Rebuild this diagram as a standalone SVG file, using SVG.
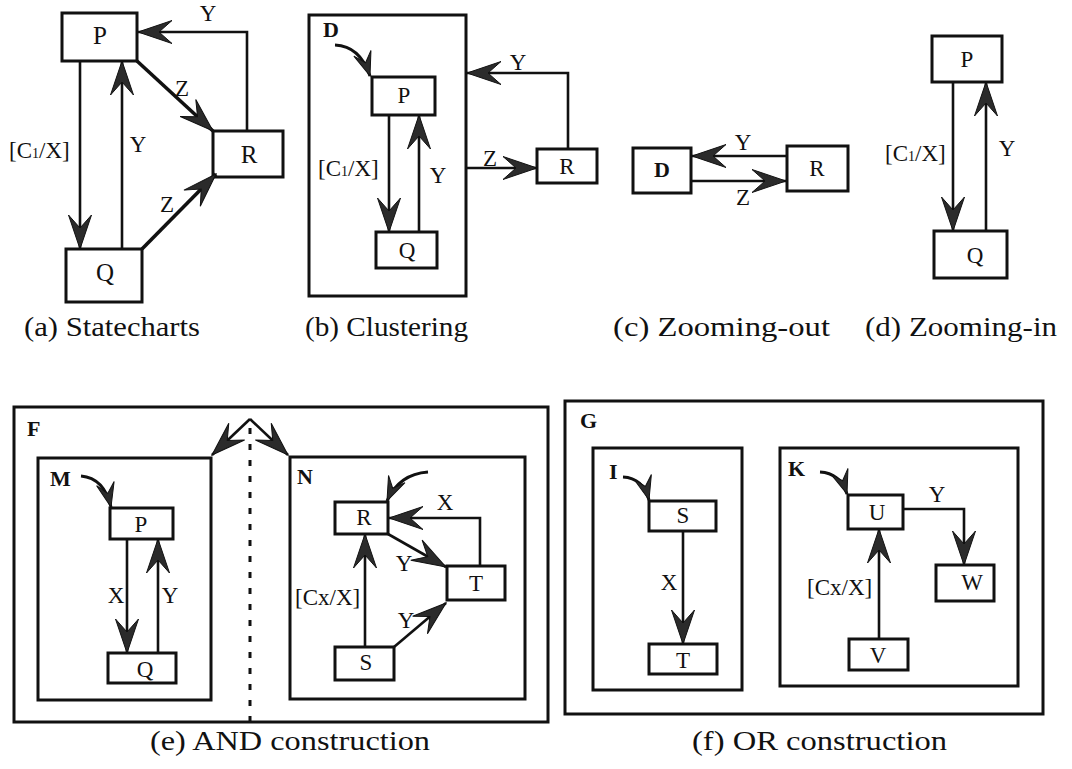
<svg xmlns="http://www.w3.org/2000/svg" width="1072" height="769" viewBox="0 0 1072 769" font-family="Liberation Serif, Times New Roman, serif">
<style>
.box{fill:none;stroke:#111;stroke-width:3}
.cl{fill:none;stroke:#111;stroke-width:3}
.e{fill:none;stroke:#111;stroke-width:2.6;marker-end:url(#ah)}
.ez{fill:none;stroke:#111;stroke-width:3.6;marker-end:url(#ah)}
.ei{fill:none;stroke:#111;stroke-width:3;marker-end:url(#ahs)}
text{font-family:"Liberation Serif","Nimbus Roman","Times New Roman","DejaVu Serif",serif;fill:#111}
.n{font-size:25px;text-anchor:middle}
.ns{font-size:23px;text-anchor:middle}
.l{font-size:23px}
.lc{font-size:23px;text-anchor:middle}
.b{font-size:22px;font-weight:bold}
.cap{font-size:28px}
.sub{font-size:14px}
</style>
<defs>
<marker id="ah" viewBox="-36 -14 38 28" markerWidth="38" markerHeight="28" refX="0" refY="0" orient="auto" markerUnits="userSpaceOnUse">
<path d="M0,0 L-34,-11.5 L-21,0 L-34,11.5 Z" fill="#2b2b2b" stroke="#111" stroke-width="1"/>
</marker>
<marker id="ahs" viewBox="-26 -11 28 22" markerWidth="28" markerHeight="22" refX="0" refY="0" orient="auto" markerUnits="userSpaceOnUse">
<path d="M0,0 L-24,-9 L-14,0 L-24,9 Z" fill="#2b2b2b" stroke="#111" stroke-width="1"/>
</marker>
</defs>
<rect width="1072" height="769" fill="#fff"/>

<!-- (a) Statecharts -->
<g id="a-P"><rect class="box" x="62" y="13" width="75" height="48"/><text class="n" x="100" y="44">P</text></g>
<g id="a-R"><rect class="box" x="213" y="131" width="70" height="46"/><text class="n" x="249" y="163">R</text></g>
<g id="a-Q"><rect class="box" x="66" y="249" width="76" height="53"/><text class="n" x="105" y="281">Q</text></g>

<!-- (b) Clustering -->
<g id="b-D"><rect class="cl" x="309" y="15" width="157" height="281"/><text class="b" x="323" y="37">D</text></g>
<g id="b-P"><rect class="box" x="372" y="77" width="63" height="38"/><text class="ns" x="404" y="103">P</text></g>
<g id="b-Q"><rect class="box" x="376" y="232" width="61" height="36"/><text class="ns" x="407" y="258">Q</text></g>
<g id="b-R"><rect class="box" x="537" y="149" width="60" height="34"/><text class="ns" x="567" y="174">R</text></g>

<!-- (c) Zooming-out -->
<g id="c-D"><rect class="box" x="633" y="148" width="58" height="45"/><text class="b" x="662" y="177" text-anchor="middle">D</text></g>
<g id="c-R"><rect class="box" x="787" y="146" width="61" height="45"/><text class="ns" x="817" y="176">R</text></g>

<!-- (d) Zooming-in -->
<g id="d-P"><rect class="box" x="932" y="36" width="70" height="46"/><text class="ns" x="967" y="67">P</text></g>
<g id="d-Q"><rect class="box" x="934" y="231" width="73" height="47"/><text class="ns" x="975" y="263">Q</text></g>

<!-- (e) AND construction -->
<g id="e-F"><rect class="cl" x="14" y="407" width="534" height="315"/><text class="b" x="27" y="436">F</text>
<line x1="250" y1="428" x2="250" y2="722" stroke="#111" stroke-width="3" stroke-dasharray="6 10"/></g>
<g id="e-M"><rect class="cl" x="38" y="458" width="173" height="242"/><text class="b" x="50" y="486">M</text></g>
<g id="e-P"><rect class="box" x="110" y="508" width="63" height="31"/><text class="ns" x="141" y="532">P</text></g>
<g id="e-Q"><rect class="box" x="108" y="653" width="68" height="30"/><text class="ns" x="145" y="677">Q</text></g>
<g id="e-N"><rect class="cl" x="290" y="457" width="235" height="242"/><text class="b" x="297" y="484">N</text></g>
<g id="e-R"><rect class="box" x="335" y="502" width="53" height="32"/><text class="ns" x="364" y="525">R</text></g>
<g id="e-T"><rect class="box" x="447" y="566" width="58" height="34"/><text class="ns" x="476" y="591">T</text></g>
<g id="e-S"><rect class="box" x="335" y="647" width="59" height="33"/><text class="ns" x="366" y="670">S</text></g>

<!-- (f) OR construction -->
<g id="f-G"><rect class="cl" x="565" y="401" width="478" height="313"/><text class="b" x="580" y="428">G</text></g>
<g id="f-I"><rect class="cl" x="593" y="448" width="149" height="242"/><text class="b" x="609" y="479">I</text></g>
<g id="f-S"><rect class="box" x="649" y="501" width="67" height="30"/><text class="ns" x="683" y="523">S</text></g>
<g id="f-T"><rect class="box" x="649" y="644" width="68" height="30"/><text class="ns" x="683" y="668">T</text></g>
<g id="f-K"><rect class="cl" x="780" y="448" width="238" height="238"/><text class="b" x="788" y="476">K</text></g>
<g id="f-U"><rect class="box" x="848" y="495" width="55" height="34"/><text class="ns" x="877" y="520">U</text></g>
<g id="f-W"><rect class="box" x="936" y="565" width="58" height="36"/><text class="ns" x="972" y="590">W</text></g>
<g id="f-V"><rect class="box" x="849" y="639" width="59" height="31"/><text class="ns" x="878" y="663">V</text></g>

<g id="connectors">
<!-- (a) -->
<path class="e" d="M80,61 V249"/>
<path class="e" d="M122,249 V61"/>
<path class="ez" d="M137,61 L213,131"/>
<path class="ez" d="M142,249 L216,174"/>
<path class="e" d="M247,131 V32 H138"/>
<text class="lc" x="208" y="21">Y</text>
<text class="lc" x="182" y="96">Z</text>
<text class="lc" x="138" y="152">Y</text>
<text class="l" x="9" y="158">[C<tspan class="sub">1</tspan>/X]</text>
<text class="lc" x="167" y="212">Z</text>
<!-- (b) -->
<path class="ei" d="M335,45 Q360,46 370,76"/>
<path class="e" d="M389,115 V232"/>
<path class="e" d="M419,232 V115"/>
<path class="e" d="M466,168 H537"/>
<path class="e" d="M568,149 V73 H467"/>
<text class="l" x="318" y="176">[C<tspan class="sub">1</tspan>/X]</text>
<text class="lc" x="438" y="183">Y</text>
<text class="lc" x="490" y="166">Z</text>
<text class="lc" x="518" y="70">Y</text>
<!-- (c) -->
<path class="e" d="M787,156 H692"/>
<path class="e" d="M691,181 H786"/>
<text class="lc" x="743" y="150">Y</text>
<text class="lc" x="743" y="205">Z</text>
<!-- (d) -->
<path class="e" d="M953,82 V231"/>
<path class="e" d="M986,231 V82"/>
<text class="l" x="885" y="161">[C<tspan class="sub">1</tspan>/X]</text>
<text class="lc" x="1007" y="156">Y</text>
<!-- (e) -->
<path class="e" d="M250,419 L212,455"/>
<path class="e" d="M250,419 L288,455"/>
<path class="ei" d="M81,476 Q104,478 111,507"/>
<path class="e" d="M127,539 V653"/>
<path class="e" d="M158,653 V539"/>
<text class="lc" x="116" y="603">X</text>
<text class="lc" x="170" y="603">Y</text>
<path class="ei" d="M428,472 Q399,474 387,501"/>
<path class="e" d="M365,647 V534"/>
<path class="e" d="M388,534 L446,567"/>
<path class="e" d="M394,647 L446,603"/>
<path class="e" d="M480,566 V518 H389"/>
<text class="l" x="295" y="605">[Cx/X]</text>
<text class="lc" x="404" y="571">Y</text>
<text class="lc" x="406" y="628">Y</text>
<text class="lc" x="445" y="510">X</text>
<!-- (f) -->
<path class="ei" d="M623,477 Q643,478 649,500"/>
<path class="e" d="M683,531 V644"/>
<text class="lc" x="669" y="590">X</text>
<path class="ei" d="M820,472 Q840,473 847,494"/>
<path class="e" d="M879,639 V529"/>
<path class="e" d="M903,509 H964 V565"/>
<text class="l" x="807" y="595">[Cx/X]</text>
<text class="lc" x="937" y="502">Y</text>
</g>

<g id="captions">
<text class="cap" x="24" y="336" textLength="176" lengthAdjust="spacingAndGlyphs">(a)  Statecharts</text>
<text class="cap" x="305" y="336" textLength="163" lengthAdjust="spacingAndGlyphs">(b)  Clustering</text>
<text class="cap" x="613" y="336" textLength="217" lengthAdjust="spacingAndGlyphs">(c)  Zooming-out</text>
<text class="cap" x="865" y="336" textLength="192" lengthAdjust="spacingAndGlyphs">(d) Zooming-in</text>
<text class="cap" x="150" y="750" textLength="280" lengthAdjust="spacingAndGlyphs">(e)  AND construction</text>
<text class="cap" x="692" y="750" textLength="255" lengthAdjust="spacingAndGlyphs">(f)  OR construction</text>
</g>
</svg>
